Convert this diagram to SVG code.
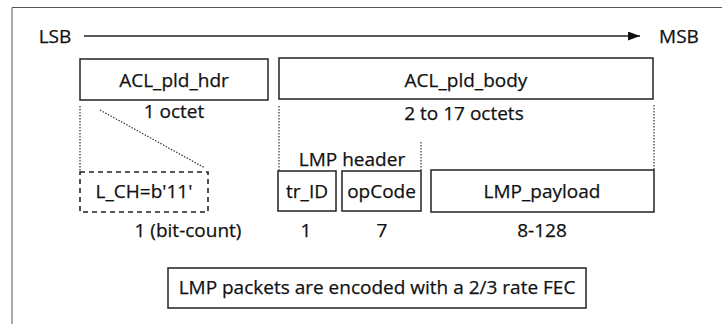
<svg xmlns="http://www.w3.org/2000/svg" width="725" height="324" viewBox="0 0 725 324">
<defs>
<style>
text{font-family:"Open Sans","Noto Sans","Liberation Sans",sans-serif;font-size:19px;fill:#111;stroke:#111;stroke-width:0.25;text-anchor:middle}
.box{fill:#fff;stroke:#222;stroke-width:1.5}
.dash{fill:#fff;stroke:#222;stroke-width:1.6;stroke-dasharray:5,4}
.dot{fill:none;stroke:#333;stroke-width:1.2;stroke-dasharray:1.5,1.5}
.frame{fill:none;stroke:#555;stroke-width:1}
</style>
<marker id="ah" viewBox="0 0 12 9" refX="12" refY="4.5" markerWidth="12" markerHeight="9" markerUnits="userSpaceOnUse" orient="auto">
<path d="M0,0 L12,4.5 L0,9 Z" fill="#111"/>
</marker>
</defs>
<rect width="725" height="324" fill="#fff"/>
<path class="frame" d="M12,324 V7.5 H722"/>
<g id="connectors">
<line x1="84" y1="36" x2="640" y2="36" stroke="#222" stroke-width="1.3" marker-end="url(#ah)"/>
<line class="dot" x1="80" y1="106" x2="80" y2="172"/>
<line class="dot" x1="279" y1="106" x2="279" y2="171"/>
<line class="dot" x1="654" y1="105" x2="654" y2="170"/>
<line class="dot" x1="421" y1="142" x2="421" y2="171"/>
<line class="dot" x1="100" y1="110" x2="205" y2="168"/>
</g>
<g id="lsb"><text x="55" y="43">LSB</text></g>
<g id="msb"><text x="679" y="43">MSB</text></g>
<g id="acl_hdr">
<rect class="box" x="80" y="59" width="188" height="41"/>
<text x="174" y="87">ACL_pld_hdr</text>
<text x="174" y="118">1 octet</text>
</g>
<g id="acl_body">
<rect class="box" x="279" y="58" width="374" height="41"/>
<text x="466" y="87">ACL_pld_body</text>
<text x="464" y="120">2 to 17 octets</text>
</g>
<g id="lch">
<rect class="dash" x="80" y="172" width="128" height="40"/>
<text x="144" y="198">L_CH=b'11'</text>
<text x="188" y="237">1 (bit-count)</text>
</g>
<g id="lmp_header"><text x="352" y="166">LMP header</text></g>
<g id="tr_id">
<rect class="box" x="278" y="171" width="58" height="40"/>
<text x="307" y="198">tr_ID</text>
<text x="306" y="237">1</text>
</g>
<g id="opcode">
<rect class="box" x="342" y="171" width="79" height="40"/>
<text x="381.5" y="198">opCode</text>
<text x="382" y="237">7</text>
</g>
<g id="lmp_payload">
<rect class="box" x="431" y="170" width="223" height="42"/>
<text x="542" y="198">LMP_payload</text>
<text x="542" y="237">8-128</text>
</g>
<g id="fec_note">
<rect class="box" x="168" y="268" width="418" height="40"/>
<text x="377" y="294">LMP packets are encoded with a 2/3 rate FEC</text>
</g>
</svg>
